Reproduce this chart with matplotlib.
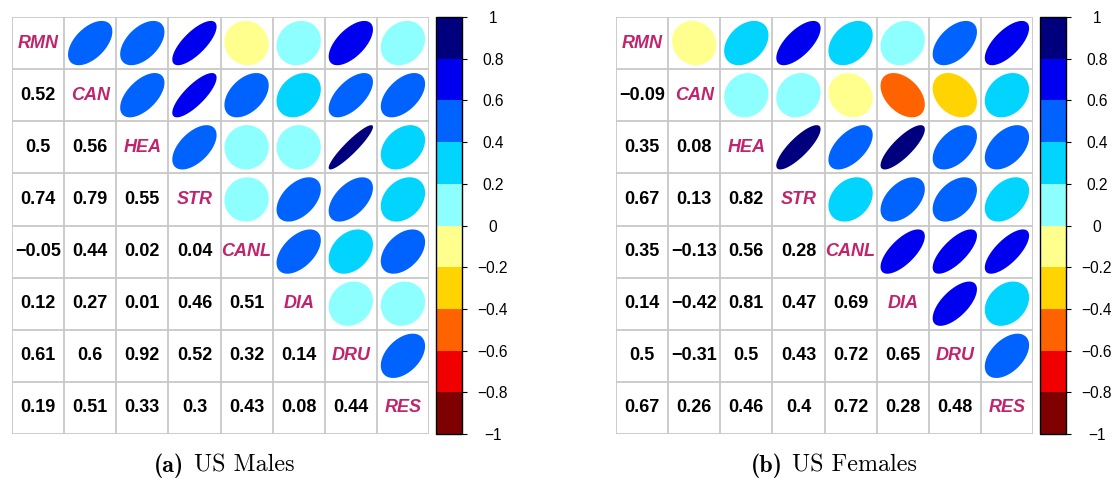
import numpy as np
import matplotlib
matplotlib.use("Agg")
import matplotlib.pyplot as plt
from matplotlib.patches import Polygon
from matplotlib.colors import ListedColormap, BoundaryNorm
import matplotlib.colorbar as mcolorbar

plt.rcParams['font.family'] = ['Liberation Sans', 'DejaVu Sans']

# ---------------- data ----------------
labels = ["RMN", "CAN", "HEA", "STR", "CANL", "DIA", "DRU", "RES"]

# lower-triangle rows (row i has i values)
males_lower = [
    [],
    [0.52],
    [0.5, 0.56],
    [0.74, 0.79, 0.55],
    [-0.05, 0.44, 0.02, 0.04],
    [0.12, 0.27, 0.01, 0.46, 0.51],
    [0.61, 0.6, 0.92, 0.52, 0.32, 0.14],
    [0.19, 0.51, 0.33, 0.3, 0.43, 0.08, 0.44],
]
females_lower = [
    [],
    [-0.09],
    [0.35, 0.08],
    [0.67, 0.13, 0.82],
    [0.35, -0.13, 0.56, 0.28],
    [0.14, -0.42, 0.81, 0.47, 0.69],
    [0.5, -0.31, 0.5, 0.43, 0.72, 0.65],
    [0.67, 0.26, 0.46, 0.4, 0.72, 0.28, 0.48],
]
caption_tags = ["(a)", "(b)"]
caption_texts = ["US Males", "US Females"]

colors = ["#7F0000", "#F10000", "#FF6300", "#FFD400", "#FFFF8E",
          "#8EFFFF", "#00D4FF", "#0063FF", "#0000F1", "#00007F"]
bounds = np.linspace(-1, 1, 11)
cbar_ticks = np.round(np.linspace(-1, 1, 11), 1)

label_color = "#C0246C"
grid_color = "#C8C8C8"

W, H = 1114, 478
fig = plt.figure(figsize=(W / 100, H / 100), dpi=100)
renderer = fig.canvas.get_renderer()


def to_matrix(lower):
    n = len(lower)
    m = np.eye(n)
    for i, row in enumerate(lower):
        for j, v in enumerate(row):
            m[i, j] = v
            m[j, i] = v
    return m


def color_for(v):
    idx = int(np.ceil(np.round((v + 1) / 0.2, 9))) - 1
    idx = min(max(idx, 0), 9)
    return colors[idx]


def fmt(v):
    s = ("%.2f" % v).rstrip("0").rstrip(".")
    return s.replace("-", "\u2212")


def ax_rect(x0, y0, x1, y1):
    return [x0 / W, 1 - y1 / H, (x1 - x0) / W, (y1 - y0) / H]


def draw_caption(tag, txt, center_px, baseline_px, size=17.3, gap=10):
    t1 = fig.text(0, 1 - baseline_px / H, tag, family="cmb10", fontsize=size,
                  ha="left", va="baseline")
    t2 = fig.text(0, 1 - baseline_px / H, txt, family="cmr10", fontsize=size,
                  ha="left", va="baseline")
    w1 = t1.get_window_extent(renderer).width
    w2 = t2.get_window_extent(renderer).width
    start = center_px - (w1 + gap + w2) / 2
    t1.set_x(start / W)
    t2.set_x((start + w1 + gap) / W)


def draw_panel(lower, gx0, cx0, tag, txt, cap_x):
    m = to_matrix(lower)
    n = m.shape[0]
    ax = fig.add_axes(ax_rect(gx0, 17, gx0 + 417, 434))
    ax.set_xlim(0, n)
    ax.set_ylim(n, 0)
    ax.axis("off")
    k = np.linspace(0, 2 * np.pi, 99)
    for i in range(n):
        for j in range(n):
            cx, cy = j + 0.5, i + 0.5
            v = m[i, j]
            if i == j:
                ax.text(cx, cy, labels[i], ha="center", va="center",
                        fontsize=13, fontweight="bold", fontstyle="italic",
                        color=label_color)
            elif i > j:
                ax.text(cx, cy, fmt(v), ha="center", va="center",
                        fontsize=13, fontweight="bold", color="black")
            else:
                a = np.arccos(v)
                ex = np.cos(k + a / 2) / 2 * 0.85
                ey = np.cos(k - a / 2) / 2 * 0.85
                ax.add_patch(Polygon(np.column_stack([cx + ex, cy - ey]),
                                     closed=True, facecolor=color_for(v),
                                     edgecolor="none"))
    for t in range(n + 1):
        ax.plot([t, t], [0, n], color=grid_color, lw=1.3, zorder=3,
                solid_capstyle="butt")
        ax.plot([0, n], [t, t], color=grid_color, lw=1.3, zorder=3,
                solid_capstyle="butt")

    cax = fig.add_axes(ax_rect(cx0, 17, cx0 + 26, 434))
    cmap = ListedColormap(colors)
    norm = BoundaryNorm(bounds, cmap.N)
    cb = mcolorbar.ColorbarBase(cax, cmap=cmap, norm=norm, boundaries=bounds,
                                ticks=cbar_ticks, orientation="vertical")
    cb.outline.set_edgecolor("black")
    cb.outline.set_linewidth(1.0)
    cax.tick_params(axis="y", direction="out", length=3.8, width=0.8,
                    pad=18.5, labelsize=11.2)
    cax.set_yticklabels([fmt(t) if t != 0 else "0" for t in cbar_ticks])
    for lab in cax.get_yticklabels():
        lab.set_horizontalalignment("center")

    draw_caption(tag, txt, cap_x, 471.5)


draw_panel(males_lower, 12, 436, caption_tags[0], caption_texts[0], 224.5)
draw_panel(females_lower, 616, 1040, caption_tags[1], caption_texts[1], 834)

fig.savefig("out.png", dpi=100)
